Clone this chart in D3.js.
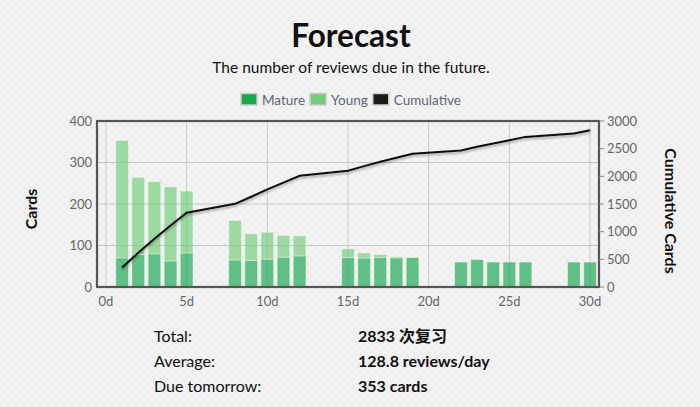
<!DOCTYPE html>
<html><head><meta charset="utf-8">
<script src="https://cdn.jsdelivr.net/npm/d3@7"></script>
<style>
html,body{margin:0;padding:0;background:#f2f2f2;}
svg{display:block;font-family:Lato,"Noto Sans CJK SC",sans-serif;}
</style></head><body>
<svg id="c" width="700" height="407"></svg>
<script>
const days   = [1,2,3,4,5,8,9,10,11,12,15,16,17,18,19,22,23,24,25,26,29,30];
const mature = [70,78,80,63,82,65,64,67,72,75,71,70,71,70,71,60,66,60,60,60,60,60];
const young  = [283,186,174,178,149,95,64,65,52,48,21,12,7,3,1,0,0,0,0,0,0,0];
const leftTicks = [0,100,200,300,400];
const rightTicks = [0,500,1000,1500,2000,2500,3000];
const xTicks = [0,5,10,15,20,25,30];
const legendItems = [["Mature","#16a64c"],["Young","#74cd7a"],["Cumulative","#1a1a1a"]];
const stats = [["Total:","2833 次复习"],["Average:","128.8 reviews/day"],["Due tomorrow:","353 cards"]];

const svg = d3.select("#c");
const defs = svg.append("defs");
const pat = defs.append("pattern").attr("id","bg").attr("width",8).attr("height",8).attr("patternUnits","userSpaceOnUse");
pat.append("rect").attr("width",8).attr("height",8).attr("fill","#f3f3f3");
pat.append("path").attr("d","M0,4 L4,0 L8,4 L4,8 Z").attr("fill","none").attr("stroke","#ebebeb").attr("stroke-width",1);
const f = defs.append("filter").attr("id","sh").attr("x","-10%").attr("y","-10%").attr("width","120%").attr("height","140%");
f.append("feDropShadow").attr("dx",0).attr("dy",2).attr("stdDeviation",1.2).attr("flood-color","#000").attr("flood-opacity",0.3);
svg.append("rect").attr("width",700).attr("height",407).attr("fill","url(#bg)");

const L=97,R=599,T=121,B=287;
const x = d3.scaleLinear().domain([0,30]).range([106,590]);
const y = d3.scaleLinear().domain([0,400]).range([B,T]);
const y2 = d3.scaleLinear().domain([0,3000]).range([B,T]);

// title
svg.append("text").attr("x",351).attr("y",47).attr("text-anchor","middle").attr("font-size",31.5).attr("font-weight",700).attr("fill","#111").text("Forecast");
svg.append("text").attr("x",351).attr("y",73).attr("text-anchor","middle").attr("font-size",15.5).attr("fill","#111").text("The number of reviews due in the future.");

// legend
let lx = 241;
const lg = svg.append("g");
legendItems.forEach(([name,col])=>{
  lg.append("rect").attr("x",lx).attr("y",93.5).attr("width",16).attr("height",11.5).attr("fill",col).attr("stroke","#ccc").attr("stroke-width",1.5);
  const t = lg.append("text").attr("x",lx+21).attr("y",105).attr("font-size",13.5).attr("fill","#5b6577").text(name);
  lx += 21 + t.node().getComputedTextLength() + 5;
});

// grid
const g = svg.append("g");
g.selectAll(".hg").data(leftTicks.slice(1,-1)).join("line").attr("x1",L).attr("x2",R).attr("y1",d=>y(d)).attr("y2",d=>y(d)).attr("stroke","#c8c8c8");
g.selectAll(".vg").data(xTicks).join("line").attr("x1",d=>x(d)).attr("x2",d=>x(d)).attr("y1",T).attr("y2",B).attr("stroke","#c8c8c8");

// bars
const bw = 12.6;
const bars = svg.append("g");
days.forEach((d,i)=>{
  const cx = x(d);
  bars.append("rect").attr("x",cx-bw/2).attr("width",bw).attr("y",y(mature[i])).attr("height",y(0)-y(mature[i]))
    .attr("fill","#16a64c").attr("fill-opacity",0.66).attr("stroke","#fff").attr("stroke-opacity",0.35).attr("stroke-width",1);
  if (young[i]>0) bars.append("rect").attr("x",cx-bw/2).attr("width",bw).attr("y",y(mature[i]+young[i])).attr("height",y(mature[i])-y(mature[i]+young[i]))
    .attr("fill","#74cd7a").attr("fill-opacity",0.68).attr("stroke","#fff").attr("stroke-opacity",0.35).attr("stroke-width",1);
});

// cumulative
let acc=0;
const cum = days.map((d,i)=>{acc+=mature[i]+young[i]; return [d,acc];});
svg.append("path").datum(cum).attr("d",d3.line().x(d=>x(d[0])).y(d=>y2(d[1])))
  .attr("fill","none").attr("stroke","#111").attr("stroke-width",2).attr("filter","url(#sh)");

// frame
svg.append("rect").attr("x",L).attr("y",T).attr("width",R-L).attr("height",B-T).attr("fill","none").attr("stroke","#555").attr("stroke-width",2.2);

// axes labels
const ax = svg.append("g").attr("font-size",13).attr("fill","#666");
ax.selectAll(".lt").data(leftTicks).join("text").attr("x",92).attr("y",d=>y(d)+4.5).attr("text-anchor","end").text(d=>d);
ax.selectAll(".rt").data(rightTicks).join("text").attr("x",607).attr("y",d=>y2(d)+4.5).text(d=>d);
svg.selectAll(".rtk").data(rightTicks).join("line").attr("x1",R).attr("x2",R+5).attr("y1",d=>y2(d)).attr("y2",d=>y2(d)).attr("stroke","#888");
ax.selectAll(".bt").data(xTicks).join("text").attr("x",d=>x(d)).attr("y",306).attr("text-anchor","middle").text(d=>d+"d");

svg.append("text").attr("transform","translate(37,209) rotate(-90)").attr("text-anchor","middle").attr("font-size",16).attr("font-weight",700).attr("fill","#111").text("Cards");
svg.append("text").attr("transform","translate(665,211) rotate(90)").attr("text-anchor","middle").attr("font-size",16).attr("font-weight",700).attr("fill","#111").text("Cumulative Cards");

// stats
stats.forEach(([k,v],i)=>{
  const yy = 342 + i*24.8;
  svg.append("text").attr("x",154).attr("y",yy).attr("font-size",16).attr("fill","#111").text(k);
  svg.append("text").attr("x",358).attr("y",yy).attr("font-size",16).attr("font-weight",700).attr("fill","#111").text(v);
});
</script></body></html>
